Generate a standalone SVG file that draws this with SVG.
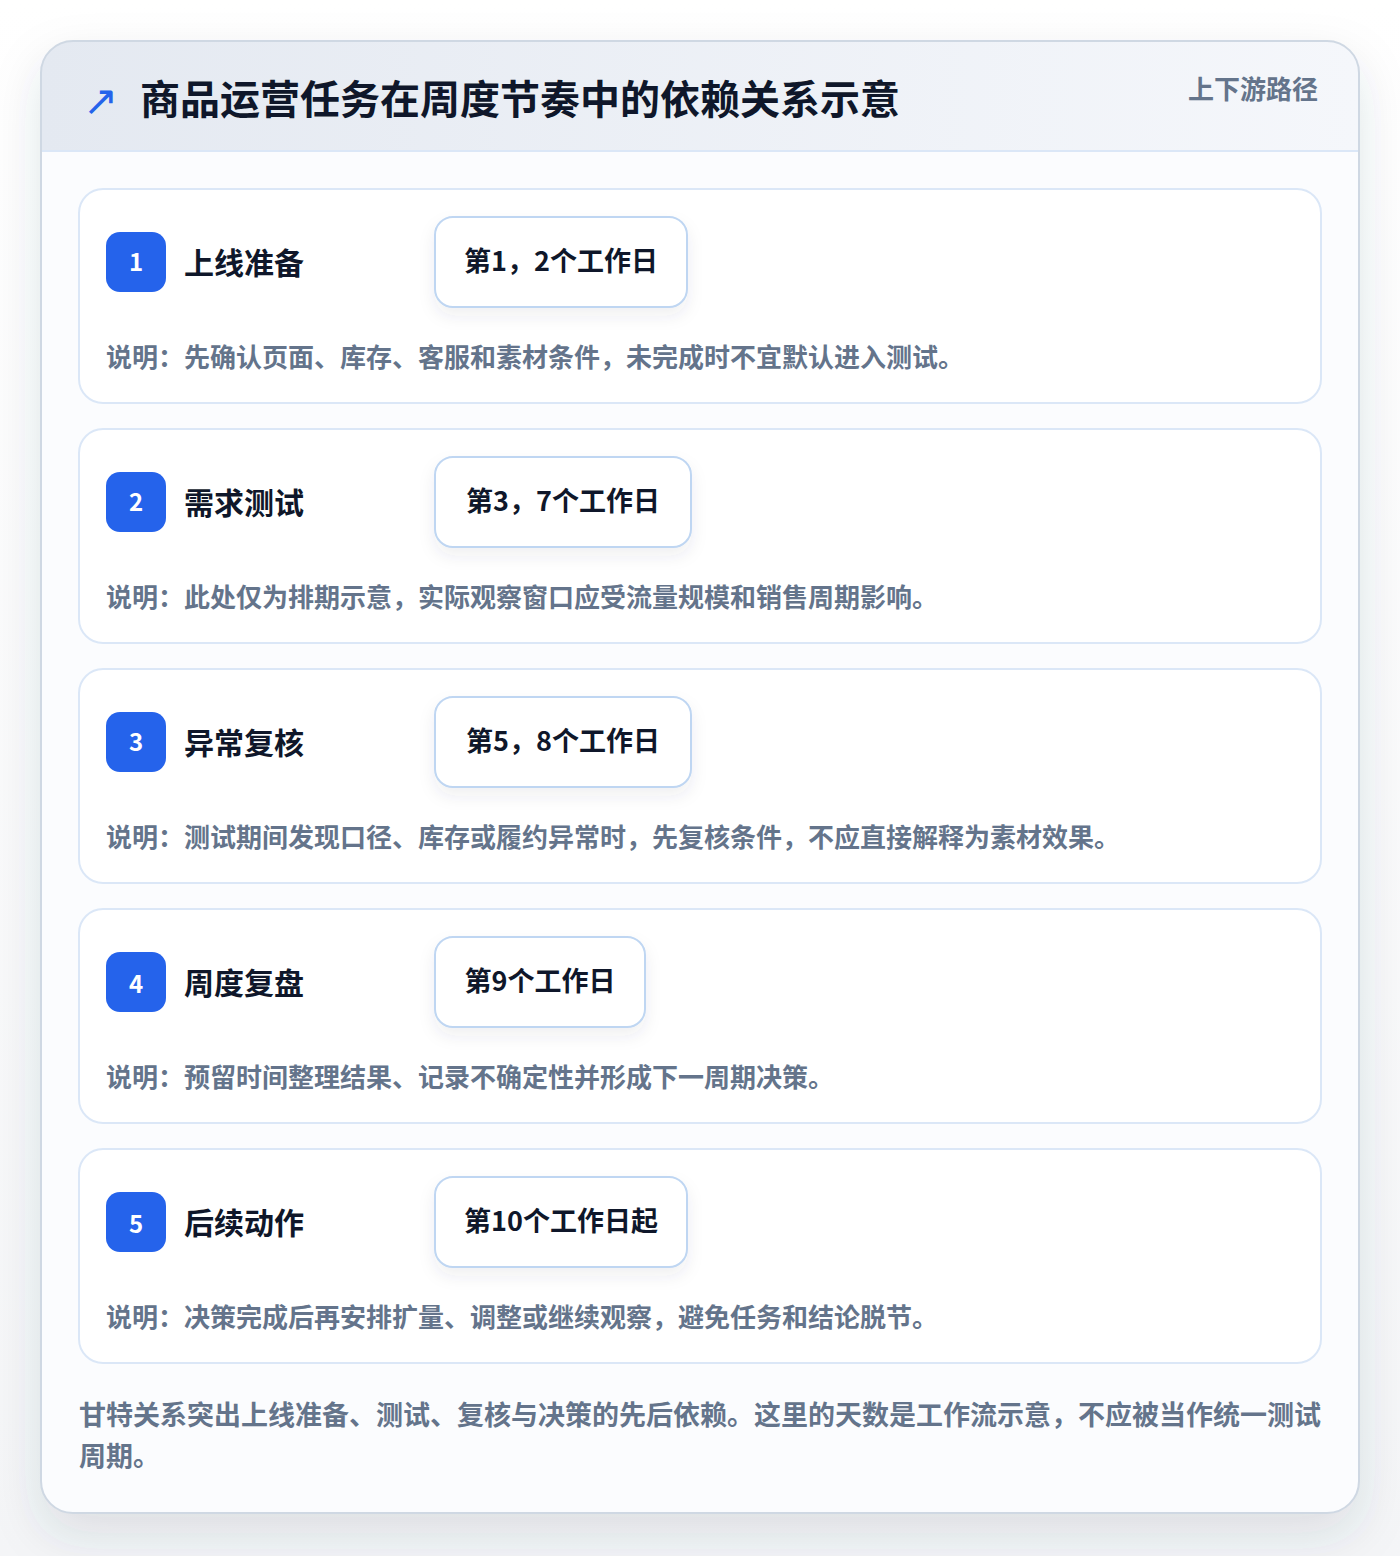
<svg xmlns="http://www.w3.org/2000/svg" width="1400" height="1556" viewBox="0 0 1400 1556">
<defs>
<linearGradient id="hdr" x1="0" y1="0" x2="1" y2="0">
<stop offset="0" stop-color="#e4e9f1"/>
<stop offset="1" stop-color="#f5f7fb"/>
</linearGradient>
<linearGradient id="pagebg" x1="0" y1="0" x2="0" y2="1">
<stop offset="0" stop-color="#ffffff"/>
<stop offset="1" stop-color="#f4f5f7"/>
</linearGradient>
<filter id="outerShadow" x="-10%" y="-10%" width="120%" height="125%">
<feDropShadow dx="0" dy="20" stdDeviation="24" flood-color="#334155" flood-opacity="0.13"/>
</filter>
<filter id="pillShadow" x="-20%" y="-30%" width="140%" height="180%">
<feDropShadow dx="0" dy="8" stdDeviation="8" flood-color="#334155" flood-opacity="0.08"/>
</filter>
<clipPath id="outerClip"><rect x="41" y="41" width="1318" height="1472" rx="32"/></clipPath>
</defs>
<style>
text{font-family:"Noto Sans CJK SC","Noto Sans",sans-serif;font-weight:700}
.card{fill:#ffffff;stroke:#dbe7f7;stroke-width:2}
.badge{fill:#2563eb}
.num{fill:#ffffff;font-size:24px;text-anchor:middle}
.ttl{fill:#0f172a;font-size:30px}
.pill{fill:#ffffff;stroke:#bfd6f2;stroke-width:2}
.ptxt{fill:#0f172a;font-size:27px;text-anchor:middle}
.desc{fill:#64748b;font-size:26px}
.foot{fill:#64748b;font-size:27px}
</style>
<rect x="0" y="0" width="1400" height="1556" fill="url(#pagebg)"/>
<g id="frame">
<rect x="41" y="41" width="1318" height="1472" rx="32" fill="#ffffff" filter="url(#outerShadow)"/>
<g clip-path="url(#outerClip)">
<rect x="41" y="41" width="1318" height="110" fill="url(#hdr)"/>
<rect x="41" y="151" width="1318" height="1362" fill="#fbfcfe"/>
<line x1="41" y1="151" x2="1359" y2="151" stroke="#dbe7f7" stroke-width="2"/>
</g>
<rect x="41" y="41" width="1318" height="1472" rx="32" fill="none" stroke="#cfd8e3" stroke-width="2"/>
</g>
<g id="header">
<text x="83" y="115" font-size="42" fill="#2563eb" style="font-family:'DejaVu Sans',sans-serif;font-weight:400">↗</text>
<text x="140" y="114" font-size="40" fill="#0f172a">商品运营任务在周度节奏中的依赖关系示意</text>
<text x="1318" y="99" font-size="26" fill="#64748b" text-anchor="end">上下游路径</text>
</g>
<g id="connectors"></g>
<g id="node1">
<rect class="card" x="79" y="189" width="1242" height="214" rx="24"/>
<rect class="badge" x="106" y="232" width="60" height="60" rx="14"/>
<text class="num" x="136" y="271">1</text>
<text class="ttl" x="184" y="274">上线准备</text>
<rect class="pill" x="435" y="217" width="252" height="90" rx="18" filter="url(#pillShadow)"/>
<text class="ptxt" x="561" y="271">第1，2个工作日</text>
<text class="desc" x="106" y="367">说明：先确认页面、库存、客服和素材条件，未完成时不宜默认进入测试。</text>
</g>
<g id="node2">
<rect class="card" x="79" y="429" width="1242" height="214" rx="24"/>
<rect class="badge" x="106" y="472" width="60" height="60" rx="14"/>
<text class="num" x="136" y="511">2</text>
<text class="ttl" x="184" y="514">需求测试</text>
<rect class="pill" x="435" y="457" width="256" height="90" rx="18" filter="url(#pillShadow)"/>
<text class="ptxt" x="563" y="511">第3，7个工作日</text>
<text class="desc" x="106" y="607">说明：此处仅为排期示意，实际观察窗口应受流量规模和销售周期影响。</text>
</g>
<g id="node3">
<rect class="card" x="79" y="669" width="1242" height="214" rx="24"/>
<rect class="badge" x="106" y="712" width="60" height="60" rx="14"/>
<text class="num" x="136" y="751">3</text>
<text class="ttl" x="184" y="754">异常复核</text>
<rect class="pill" x="435" y="697" width="256" height="90" rx="18" filter="url(#pillShadow)"/>
<text class="ptxt" x="563" y="751">第5，8个工作日</text>
<text class="desc" x="106" y="847">说明：测试期间发现口径、库存或履约异常时，先复核条件，不应直接解释为素材效果。</text>
</g>
<g id="node4">
<rect class="card" x="79" y="909" width="1242" height="214" rx="24"/>
<rect class="badge" x="106" y="952" width="60" height="60" rx="14"/>
<text class="num" x="136" y="993">4</text>
<text class="ttl" x="184" y="994">周度复盘</text>
<rect class="pill" x="435" y="937" width="210" height="90" rx="18" filter="url(#pillShadow)"/>
<text class="ptxt" x="540" y="991">第9个工作日</text>
<text class="desc" x="106" y="1087">说明：预留时间整理结果、记录不确定性并形成下一周期决策。</text>
</g>
<g id="node5">
<rect class="card" x="79" y="1149" width="1242" height="214" rx="24"/>
<rect class="badge" x="106" y="1192" width="60" height="60" rx="14"/>
<text class="num" x="136" y="1233">5</text>
<text class="ttl" x="184" y="1234">后续动作</text>
<rect class="pill" x="435" y="1177" width="252" height="90" rx="18" filter="url(#pillShadow)"/>
<text class="ptxt" x="561" y="1231">第10个工作日起</text>
<text class="desc" x="106" y="1327">说明：决策完成后再安排扩量、调整或继续观察，避免任务和结论脱节。</text>
</g>
<g id="footer">
<text class="foot" x="79" y="1425">甘特关系突出上线准备、测试、复核与决策的先后依赖。这里的天数是工作流示意，不应被当作统一测试</text>
<text class="foot" x="79" y="1466">周期。</text>
</g>
</svg>
